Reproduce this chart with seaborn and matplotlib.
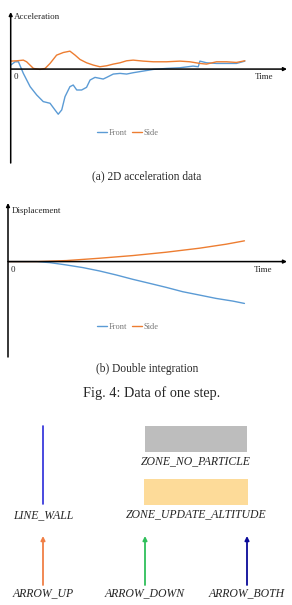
import numpy as np
import pandas as pd
import seaborn as sns
import matplotlib.pyplot as plt
from matplotlib.patches import Rectangle

# data (time in arbitrary units 0..100)
front_t = [0, 1.9, 3.3, 5.4, 8.3, 11.1, 13.9, 16.8, 18.9, 20.3, 21.8, 23.2, 25.3, 26.7, 28.2, 30.3,
           32.4, 33.9, 36.0, 38.1, 39.5, 41.0, 43.8, 46.7, 49.5, 52.3, 56.6, 60.9, 66.6, 72.3, 77.9,
           80.1, 80.8, 83.6, 87.9, 92.2, 96.4, 100]
front_acc = [1.2, 2.2, 2.2, -1.3, -5.3, -7.8, -9.8, -10.3, -12.3, -13.6, -12.3, -8.3, -5.3, -4.8, -6.3, -6.3,
             -5.5, -3.3, -2.5, -2.8, -3.0, -2.5, -1.5, -1.3, -1.5, -1.1, -0.6, -0.1, 0.2, 0.4, 0.9,
             0.7, 2.4, 1.9, 1.7, 1.7, 1.7, 2.4]
side_t = [0, 2.6, 5.4, 6.8, 9.7, 12.5, 14.7, 16.8, 19.6, 22.5, 25.3, 27.5, 29.6, 32.4, 35.3, 38.1,
          41.0, 43.8, 46.7, 49.5, 52.3, 56.6, 60.9, 66.6, 72.3, 76.5, 80.8, 83.6, 87.9, 92.2, 96.4, 100]
side_acc = [2.4, 2.5, 2.7, 2.2, 0.2, -0.1, 0.2, 1.7, 4.2, 5.0, 5.4, 4.2, 2.9, 1.9, 1.2, 0.7,
            1.0, 1.5, 1.9, 2.5, 2.7, 2.4, 2.2, 2.2, 2.4, 2.2, 1.7, 1.5, 2.2, 2.2, 2.0, 2.5]

disp_front_t = [0, 12, 17.6, 24.6, 31.7, 38.7, 45.8, 52.8, 59.9, 66.9, 73.9, 81, 88, 95.1, 100]
disp_front = [0, 0, -0.3, -1.0, -1.8, -2.8, -4.0, -5.3, -6.5, -7.7, -9.0, -10.0, -11.0, -11.8, -12.5]
disp_side_t = [0, 12, 24.6, 38.7, 52.8, 66.9, 81, 92.3, 100]
disp_side = [0, 0, 0.3, 1.0, 1.8, 2.8, 4.0, 5.2, 6.2]

series_names = ['Front', 'Side']
colors = {'Front': '#5b9bd5', 'Side': '#ed7d31'}

legend_items = ['LINE_WALL', 'ZONE_NO_PARTICLE', 'ZONE_UPDATE_ALTITUDE',
                'ARROW_UP', 'ARROW_DOWN', 'ARROW_BOTH']

sns.set_style('white')
plt.rcParams['font.family'] = ['Liberation Serif', 'DejaVu Serif']

W, H = 292, 605
fig = plt.figure(figsize=(W / 100, H / 100), dpi=100)


def px_axes(x0, y0, x1, y1):
    return fig.add_axes([x0 / W, 1 - y1 / H, (x1 - x0) / W, (y1 - y0) / H])


# overlay in pixel coordinates for texts and the symbol legend
ax0 = fig.add_axes([0, 0, 1, 1])
ax0.set_xlim(0, W)
ax0.set_ylim(H, 0)
ax0.axis('off')


def chart(ax, t1, y1, t2, y2, ylim, leg_x, leg_y):
    df = pd.concat([
        pd.DataFrame({'t': t1, 'v': y1, 's': series_names[0]}),
        pd.DataFrame({'t': t2, 'v': y2, 's': series_names[1]}),
    ])
    sns.lineplot(data=df, x='t', y='v', hue='s', palette=colors, lw=1.0, ax=ax, sort=False)
    ax.set_xlim(0, 118)
    ax.set_ylim(*ylim)
    ax.patch.set_alpha(0)
    for s in ax.spines.values():
        s.set_visible(False)
    ax.set_xticks([])
    ax.set_yticks([])
    ax.set_xlabel('')
    ax.set_ylabel('')
    ax.annotate('', xy=(118, 0), xytext=(0, 0), annotation_clip=False,
                arrowprops=dict(arrowstyle='-|>', color='black', lw=1.1, mutation_scale=5,
                                shrinkA=0, shrinkB=0))
    ax.annotate('', xy=(0, ylim[1]), xytext=(0, ylim[0]), annotation_clip=False,
                arrowprops=dict(arrowstyle='-|>', color='black', lw=1.1, mutation_scale=5,
                                shrinkA=0, shrinkB=0))
    leg = ax.legend(loc='center', bbox_to_anchor=(leg_x, leg_y), ncol=2, frameon=False,
                    fontsize=6, handlelength=1.2, handletextpad=0.2, columnspacing=0.6)
    for txt in leg.get_texts():
        txt.set_color('#777777')


ax1 = px_axes(10.7, 12, 287, 163)
chart(ax1, front_t, front_acc, side_t, side_acc, (-28.3, 17.2), 0.425, 0.2)

ax2 = px_axes(8, 203, 287, 357)
chart(ax2, disp_front_t, disp_front, disp_side_t, disp_side, (-28.5, 17.5), 0.43, 0.195)

small = 6.5
ax0.text(14, 17, 'Acceleration', fontsize=small, va='center')
ax0.text(16, 77, '0', fontsize=small, va='center', ha='center')
ax0.text(264, 77, 'Time', fontsize=small, va='center', ha='center')
ax0.text(12, 211, 'Displacement', fontsize=small, va='center')
ax0.text(13, 270, '0', fontsize=small, va='center', ha='center')
ax0.text(263, 270, 'Time', fontsize=small, va='center', ha='center')

ax0.text(147, 176, '(a) 2D acceleration data', fontsize=8.3, ha='center', va='center')
ax0.text(147, 369, '(b) Double integration', fontsize=8.3, ha='center', va='center')
ax0.text(152, 393, 'Fig. 4: Data of one step.', fontsize=10.3, ha='center', va='center')

# symbol legend
ax0.plot([43, 43], [426, 504], color='#2b2bd9', lw=1.2)
ax0.add_patch(Rectangle((145, 426), 102, 26, color='#bdbdbd', lw=0))
ax0.add_patch(Rectangle((144, 479), 104, 26, color='#fddb99', lw=0))
for x, c in [(43, '#f07f45'), (145, '#2fbf5a'), (247, '#0a0a99')]:
    ax0.annotate('', xy=(x, 536), xytext=(x, 585),
                 arrowprops=dict(arrowstyle='-|>', color=c, lw=1.3, mutation_scale=6,
                                 shrinkA=0, shrinkB=0))

lab = dict(fontsize=8.5, style='italic', ha='center', va='center')
ax0.text(43, 515, legend_items[0], **lab)
ax0.text(196, 461, legend_items[1], **lab)
ax0.text(196, 514, legend_items[2], **lab)
ax0.text(43, 593, legend_items[3], **lab)
ax0.text(145, 593, legend_items[4], **lab)
ax0.text(247, 593, legend_items[5], **lab)

fig.savefig('out.png', dpi=100)
